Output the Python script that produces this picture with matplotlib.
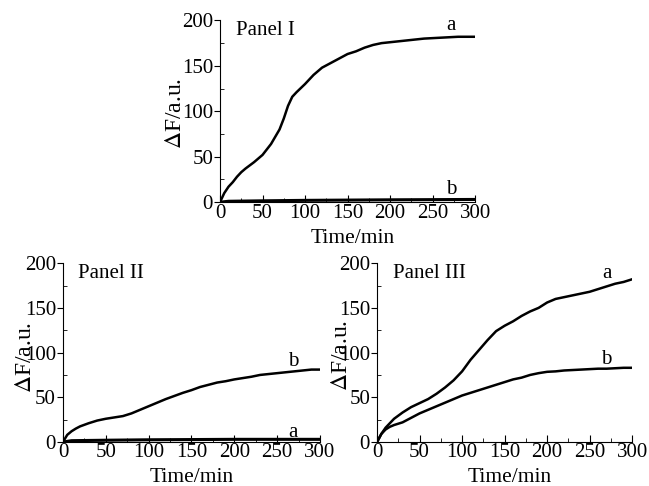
import matplotlib.pyplot as plt
from matplotlib.ticker import MultipleLocator

plt.rcParams['font.family'] = ['Liberation Serif', 'DejaVu Serif']
plt.rcParams['font.size'] = 15
plt.rcParams['mathtext.fontset'] = 'stix'

# Panel I: curve a rises sigmoidally, curve b stays near zero
t1a = [0, 5, 10, 15, 20, 25, 30, 40, 50, 60, 70, 75, 80, 85, 90, 100, 110, 120,
       130, 140, 150, 160, 170, 180, 190, 200, 210, 220, 230, 240, 250, 260,
       270, 280, 290, 300]
f1a = [0, 10, 17, 22, 28, 33, 37, 44, 52, 64, 80, 92, 106, 116, 121, 130, 140,
       148, 153, 158, 163, 166, 170, 173, 175, 176, 177, 178, 179, 180, 180.5,
       181, 181.5, 182, 182, 182]
t1b = [0, 10, 50, 100, 150, 200, 250, 300]
f1b = [0, 1, 1.5, 2, 2.3, 2.6, 2.8, 3]

# Panel II
t2b = [0, 5, 10, 15, 20, 30, 40, 50, 60, 70, 80, 90, 100, 110, 120, 130, 140,
       150, 160, 170, 180, 190, 200, 210, 220, 230, 240, 250, 260, 270, 280,
       290, 300]
f2b = [0, 8, 12, 15, 17.5, 21, 24, 26, 27.5, 29, 32, 36, 40, 44, 48, 51.5, 55,
       58, 61.5, 64, 66.5, 68, 70, 71.5, 73, 75, 76, 77, 78, 79, 80, 81, 81]
t2a = [0, 10, 50, 100, 200, 300]
f2a = [0, 1.5, 2, 2.5, 3, 3]

# Panel III
t3 = [0, 5, 10, 15, 20, 30, 40, 50, 60, 70, 80, 90, 100, 110, 120, 130, 140,
      150, 160, 170, 180, 190, 200, 210, 220, 230, 240, 250, 260, 270, 280,
      290, 300]
f3a = [0, 9, 16, 21, 26, 33, 39, 43.5, 48, 54, 61, 69, 79, 92, 103, 114, 124,
       130, 135, 141, 146, 150, 156, 160, 162, 164, 166, 168, 171, 174, 177,
       179, 182]
f3b = [0, 9, 14, 17, 19, 22, 27, 32, 36, 40, 44, 48, 52, 55, 58, 61, 64, 67,
       70, 72, 75, 77, 78.5, 79, 80, 80.5, 81, 81.5, 82, 82, 82.5, 83, 83]

fig = plt.figure(figsize=(6.49, 4.86), dpi=100)
ax1 = fig.add_axes([0.339, 0.584, 0.393, 0.374])
ax2 = fig.add_axes([0.097, 0.0905, 0.396, 0.368])
ax3 = fig.add_axes([0.581, 0.0905, 0.393, 0.368])


def style(ax, ylab_x, ylab_y, xlab_x, xlab_y):
    ax.set_xlim(0, 300)
    ax.set_ylim(0, 200)
    for s in ['top', 'right']:
        ax.spines[s].set_visible(False)
    ax.xaxis.set_major_locator(MultipleLocator(50))
    ax.xaxis.set_minor_locator(MultipleLocator(25))
    ax.yaxis.set_major_locator(MultipleLocator(50))
    ax.yaxis.set_minor_locator(MultipleLocator(25))
    ax.tick_params(axis='x', which='major', direction='in', length=5, pad=1)
    ax.tick_params(axis='x', which='minor', direction='in', length=3)
    ax.tick_params(axis='y', which='major', direction='out', length=4, pad=1)
    ax.tick_params(axis='y', which='minor', direction='in', length=3)
    ax.set_ylabel(r'$\Delta$F/a.u.', fontsize=17)
    ax.yaxis.set_label_coords(ylab_x, ylab_y)
    ax.set_xlabel('Time/min', fontsize=15.5)
    ax.xaxis.set_label_coords(xlab_x, xlab_y)


ax1.plot(t1a, f1a, color='black', lw=1.8)
ax1.plot(t1b, f1b, color='black', lw=2.2)
ax1.text(19, 189, 'Panel I', va='center')
ax1.text(272, 194, 'a', ha='center', va='center')
ax1.text(272, 14, 'b', ha='center', va='center')
style(ax1, -0.135, 0.49, 0.52, -0.15)

ax2.plot(t2b, f2b, color='black', lw=1.8)
ax2.plot(t2a, f2a, color='black', lw=2.2)
ax2.text(17, 189, 'Panel II', va='center')
ax2.text(269, 90, 'b', ha='center', va='center')
ax2.text(269, 11, 'a', ha='center', va='center')
style(ax2, -0.105, 0.475, 0.5, -0.148)

ax3.plot(t3, f3a, color='black', lw=1.8)
ax3.plot(t3, f3b, color='black', lw=1.8)
ax3.text(19, 189, 'Panel III', va='center')
ax3.text(270, 189, 'a', ha='center', va='center')
ax3.text(270, 92, 'b', ha='center', va='center')
style(ax3, -0.098, 0.486, 0.52, -0.148)

fig.savefig('out.png', dpi=100)
